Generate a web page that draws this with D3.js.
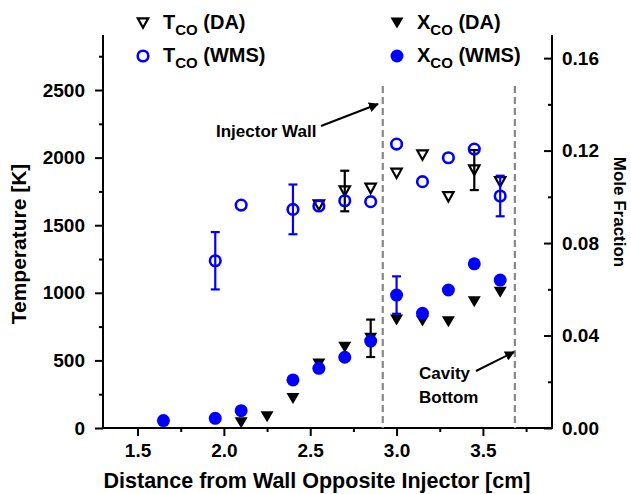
<!DOCTYPE html>
<html><head><meta charset="utf-8">
<script src="https://cdn.jsdelivr.net/npm/d3@7"></script>
<style>
html,body{margin:0;padding:0;background:#fff;}
svg text{font-family:"Liberation Sans",Arial,sans-serif;fill:#000;font-weight:bold;}
</style></head>
<body><svg id="c" width="631" height="494"></svg>
<script>
// ---- data ----
const tDaX   = [2.55, 2.7, 2.85, 3.0, 3.15, 3.3, 3.45, 3.6];
const tDaY   = [1649, 1753, 1773, 1884, 2019, 1711, 1908, 1822];
const tDaErr = [null, 150, null, null, null, null, 148, null];

const tWmsX   = [1.95, 2.1, 2.4, 2.55, 2.7, 2.85, 3.0, 3.15, 3.3, 3.45, 3.6];
const tWmsY   = [1237, 1649, 1617, 1642, 1681, 1674, 2100, 1822, 1999, 2063, 1716];
const tWmsErr = [212, null, 184, null, null, null, null, null, null, null, 150];

const xDaX   = [2.1, 2.25, 2.4, 2.55, 2.7, 2.85, 3.0, 3.15, 3.3, 3.45, 3.6];
const xDaY   = [0.0023, 0.0049, 0.0128, 0.0277, 0.0349, 0.0388, 0.0467, 0.0463, 0.0460, 0.0546, 0.0587];
const xDaErr = [null, null, null, null, null, 0.0081, null, null, null, null, null];

const xWmsX   = [1.65, 1.95, 2.1, 2.4, 2.55, 2.7, 2.85, 3.0, 3.15, 3.3, 3.45, 3.6];
const xWmsY   = [0.0032, 0.0042, 0.0075, 0.0208, 0.0258, 0.0306, 0.0376, 0.0575, 0.0496, 0.0597, 0.0710, 0.0640];
const xWmsErr = [null, null, null, null, null, null, null, 0.0081, null, null, null, null];

const xTicks = [1.5, 2.0, 2.5, 3.0, 3.5];
const xMinor = [1.75, 2.25, 2.75, 3.25, 3.75];
const tTicks = [0, 500, 1000, 1500, 2000, 2500];
const tMinor = [250, 750, 1250, 1750, 2250, 2750];
const mTicks = [0, 0.04, 0.08, 0.12, 0.16];
const mMinor = [0.02, 0.06, 0.10, 0.14];
const markerLines = [2.92, 3.685];

// ---- layout ----
const L = 103, R = 552, T = 35, B = 428;
const blue = "#0000ff";
const svg = d3.select("#c");

const x = d3.scaleLinear().domain([1.3, 3.9]).range([L, R]);
const yT = d3.scaleLinear().domain([0, 2907]).range([B, T]);
const yM = d3.scaleLinear().domain([0, 0.17]).range([B, T]);

function styleAxis(g){ g.select(".domain").remove(); g.selectAll("line").attr("stroke","#000").attr("stroke-width",2); g.selectAll("text").attr("font-size",19); }

svg.append("g").attr("transform",`translate(0,${B})`)
  .call(d3.axisBottom(x).tickValues(xTicks).tickFormat(d3.format(".1f")).tickSize(8).tickPadding(8))
  .call(styleAxis);
svg.append("g").attr("transform",`translate(0,${B})`)
  .call(d3.axisBottom(x).tickValues(xMinor).tickFormat("").tickSize(4)).call(styleAxis);

svg.append("g").attr("transform",`translate(${L},0)`)
  .call(d3.axisLeft(yT).tickValues(tTicks).tickFormat(d3.format("d")).tickSize(8).tickPadding(10))
  .call(styleAxis);
svg.append("g").attr("transform",`translate(${L},0)`)
  .call(d3.axisLeft(yT).tickValues(tMinor).tickFormat("").tickSize(4)).call(styleAxis);

svg.append("g").attr("transform",`translate(${R},0)`)
  .call(d3.axisRight(yM).tickValues(mTicks).tickFormat(d3.format(".2f")).tickSizeInner(-8).tickSizeOuter(0).tickPadding(10))
  .call(styleAxis);
svg.append("g").attr("transform",`translate(${R},0)`)
  .call(d3.axisRight(yM).tickValues(mMinor).tickFormat("").tickSizeInner(-4).tickSizeOuter(0)).call(styleAxis);

// axis lines
svg.append("line").attr("x1",L).attr("x2",R).attr("y1",B).attr("y2",B).attr("stroke","#000").attr("stroke-width",2);
svg.append("line").attr("x1",L).attr("x2",L).attr("y1",T).attr("y2",B+1).attr("stroke","#000").attr("stroke-width",2);
svg.append("line").attr("x1",R).attr("x2",R).attr("y1",T).attr("y2",B+1).attr("stroke","#000").attr("stroke-width",2);

// titles
svg.append("text").attr("x",317).attr("y",488).attr("text-anchor","middle").attr("font-size",21.5)
  .text("Distance from Wall Opposite Injector [cm]");
svg.append("text").attr("transform","translate(26,244) rotate(-90)").attr("text-anchor","middle").attr("font-size",21)
  .text("Temperature [K]");
svg.append("text").attr("transform","translate(614,212) rotate(90)").attr("text-anchor","middle").attr("font-size",17)
  .text("Mole Fraction");

// dashed markers
svg.selectAll(".vm").data(markerLines).enter().append("line")
  .attr("x1",d=>x(d)).attr("x2",d=>x(d)).attr("y1",86).attr("y2",B)
  .attr("stroke","#888").attr("stroke-width",2.2).attr("stroke-dasharray","7,4");

// annotations
svg.append("defs").append("marker").attr("id","ah").attr("viewBox","0 0 10 10").attr("refX",9).attr("refY",5)
  .attr("markerWidth",5).attr("markerHeight",5).attr("orient","auto")
  .append("path").attr("d","M0,0 L10,5 L0,10 z").attr("fill","#000");
svg.append("text").attr("x",216).attr("y",137).attr("font-size",17).text("Injector Wall");
svg.append("line").attr("x1",321).attr("y1",126).attr("x2",378).attr("y2",104).attr("stroke","#000").attr("stroke-width",2).attr("marker-end","url(#ah)");
svg.append("text").attr("x",419).attr("y",379).attr("font-size",17).text("Cavity");
svg.append("text").attr("x",419).attr("y",403).attr("font-size",17).text("Bottom");
svg.append("line").attr("x1",476).attr("y1",371).attr("x2",514).attr("y2",352).attr("stroke","#000").attr("stroke-width",2).attr("marker-end","url(#ah)");

// markers
const tri = "M-6.5,-5.5 L6.5,-5.5 L0,5.5 Z";
const triOpen = "M-5.2,-4.6 L5.2,-4.6 L0,4.8 Z";

function errBars(xs, ys, es, ys_scale, color){
  const g = svg.append("g").attr("stroke",color).attr("stroke-width",2.2).attr("fill","none");
  xs.forEach((xv,i)=>{
    if(es[i]==null) return;
    const cx = x(xv), y1 = ys_scale(ys[i]+es[i]), y2 = ys_scale(ys[i]-es[i]);
    g.append("line").attr("x1",cx).attr("x2",cx).attr("y1",y1).attr("y2",y2);
    g.append("line").attr("x1",cx-4.5).attr("x2",cx+4.5).attr("y1",y1).attr("y2",y1);
    g.append("line").attr("x1",cx-4.5).attr("x2",cx+4.5).attr("y1",y2).attr("y2",y2);
  });
}

errBars(tDaX, tDaY, tDaErr, yT, "#000");
svg.append("g").selectAll("path").data(tDaX).enter().append("path")
  .attr("d",triOpen).attr("transform",(d,i)=>`translate(${x(d)},${yT(tDaY[i])})`)
  .attr("fill","none").attr("stroke","#000").attr("stroke-width",2.2);
errBars(tWmsX, tWmsY, tWmsErr, yT, blue);
svg.append("g").selectAll("circle").data(tWmsX).enter().append("circle")
  .attr("cx",d=>x(d)).attr("cy",(d,i)=>yT(tWmsY[i])).attr("r",5.3)
  .attr("fill","none").attr("stroke",blue).attr("stroke-width",2.6);
errBars(xDaX, xDaY, xDaErr, yM, "#000");
svg.append("g").selectAll("path").data(xDaX).enter().append("path")
  .attr("d",tri).attr("transform",(d,i)=>`translate(${x(d)},${yM(xDaY[i])})`).attr("fill","#000");
errBars(xWmsX, xWmsY, xWmsErr, yM, blue);
svg.append("g").selectAll("circle").data(xWmsX).enter().append("circle")
  .attr("cx",d=>x(d)).attr("cy",(d,i)=>yM(xWmsY[i])).attr("r",6.5).attr("fill",blue);

// legend
const leg = svg.append("g");
function legText(xp, yp, main, sub, rest){
  const t = leg.append("text").attr("x",xp).attr("y",yp).attr("font-size",20);
  t.append("tspan").text(main);
  t.append("tspan").attr("font-size",15).attr("dy",6).text(sub);
  t.append("tspan").attr("dy",-6).text(rest);
}
leg.append("path").attr("d",triOpen).attr("transform","translate(143,23)").attr("fill","none").attr("stroke","#000").attr("stroke-width",2.2);
legText(163, 29, "T", "CO", " (DA)");
leg.append("circle").attr("cx",143).attr("cy",56).attr("r",5.3).attr("fill","none").attr("stroke",blue).attr("stroke-width",2.6);
legText(163, 62, "T", "CO", " (WMS)");
leg.append("path").attr("d",tri).attr("transform","translate(397,23)").attr("fill","#000");
legText(417, 29, "X", "CO", " (DA)");
leg.append("circle").attr("cx",397).attr("cy",56).attr("r",6.5).attr("fill",blue);
legText(417, 62, "X", "CO", " (WMS)");
</script></body></html>
